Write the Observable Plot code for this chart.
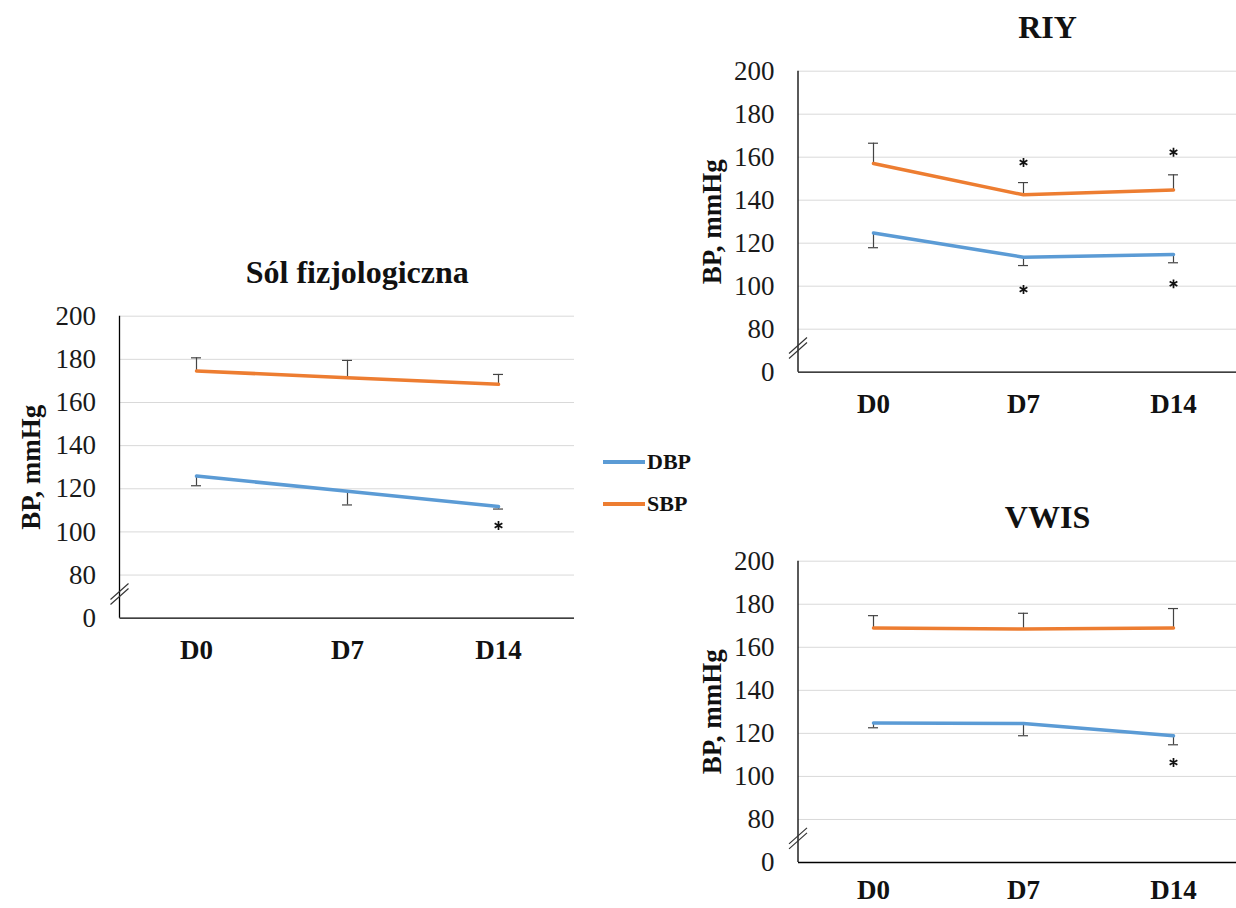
<!DOCTYPE html>
<html>
<head>
<meta charset="utf-8">
<script src="https://cdn.jsdelivr.net/npm/d3@7"></script>
<script src="https://cdn.jsdelivr.net/npm/@observablehq/plot@0.6"></script>
<style>
  html, body { margin: 0; padding: 0; background: #fff; }
  #page {
    position: relative; width: 1236px; height: 908px; overflow: hidden; background: #fff;
    font-family: "Liberation Serif", "Times New Roman", serif; color: #111;
  }
  .panel { position: absolute; }
  .panel svg { max-width: none !important; font-family: "Liberation Serif", "Times New Roman", serif !important; }
  .panel svg text { font-family: "Liberation Serif", "Times New Roman", serif; }
  .legend { position: absolute; left: 603px; top: 441px; }
  .legend .row { display: flex; align-items: center; height: 42px; }
  .legend .swatch { width: 42px; height: 3.5px; margin-right: 2px; }
  .legend .name { font-size: 22px; font-weight: bold; line-height: 1; }
</style>
</head>
<body>
<div id="page">
  <div class="legend" id="legend"></div>
</div>
<script>
// Measurement days (x categories)
const days = ["D0", "D7", "D14"];

// Series names and colours
const seriesNames = ["DBP", "SBP"];
const seriesColors = ["#5b9bd5", "#ed7d31"];

// Y axis: broken axis. The bottom tick (labelled 0) sits one gridline step below 80.
const axisFloor = 60;
const yTickValues = [60, 80, 100, 120, 140, 160, 180, 200];
const yTickLabels = ["0", "80", "100", "120", "140", "160", "180", "200"];
const gridTicks = [80, 100, 120, 140, 160, 180, 200];
const breakValue = 71;
const yLabel = "BP, mmHg";

// Panel titles
const titleSaline = "Sól fizjologiczna";
const titleRIY = "RIY";
const titleVWIS = "VWIS";

// Sól fizjologiczna: means and SD (SBP bars up, DBP bars down)
const salineSBP = [174.6, 171.5, 168.4];
const salineSBPErr = [6.1, 8.0, 4.6];
const salineDBP = [125.9, 118.8, 111.8];
const salineDBPErr = [4.5, 6.3, 1.2];
const salineStars = [{day: "D14", y: 103}];

// RIY
const riySBP = [157.1, 142.5, 144.8];
const riySBPErr = [9.4, 5.7, 7.0];
const riyDBP = [124.7, 113.5, 114.7];
const riyDBPErr = [6.8, 3.9, 3.8];
const riyStars = [
  {day: "D7", y: 157.5}, {day: "D14", y: 162.3},
  {day: "D7", y: 98.5}, {day: "D14", y: 101.1}
];

// VWIS
const vwisSBP = [169.0, 168.5, 169.0];
const vwisSBPErr = [5.7, 7.3, 9.0];
const vwisDBP = [124.8, 124.6, 118.9];
const vwisDBPErr = [2.2, 5.7, 4.2];
const vwisStars = [{day: "D14", y: 106.5}];

const FONT = "Liberation Serif";

function rowsFor(dbp, dbpErr, sbp, sbpErr) {
  const rows = [];
  days.forEach((day, i) => {
    rows.push({day, series: "DBP", value: dbp[i], end: dbp[i] - dbpErr[i]});
    rows.push({day, series: "SBP", value: sbp[i], end: sbp[i] + sbpErr[i]});
  });
  return rows;
}

const tickLabel = d => yTickLabels[yTickValues.indexOf(d)];

// Vertical axis line plus the two slashes marking the break between 0 and 80
function axisWithBreak(index, scales, values, dimensions) {
  const x0 = dimensions.marginLeft;
  const g = d3.create("svg:g");
  g.append("line")
    .attr("x1", x0).attr("x2", x0)
    .attr("y1", scales.y(axisFloor)).attr("y2", scales.y(200))
    .attr("stroke", "#000").attr("stroke-width", 1.3);
  const yb = scales.y(breakValue);
  for (const off of [-2.5, 2.5]) {
    g.append("line")
      .attr("x1", x0 - 9).attr("y1", yb + off + 8)
      .attr("x2", x0 + 9).attr("y2", yb + off - 8)
      .attr("stroke", "#333").attr("stroke-width", 1.2);
  }
  return g.node();
}

function panel(cfg) {
  const {title, rows, stars, width, height, marginLeft, marginRight, marginTop, marginBottom, titleDx, xPad} = cfg;
  return Plot.plot({
    width, height, marginLeft, marginRight, marginTop, marginBottom,
    style: {fontFamily: FONT, background: "transparent", overflow: "visible", color: "#111", maxWidth: "none"},
    x: {type: "point", domain: days, padding: 0.5, axis: null},
    y: {domain: [axisFloor, 200], axis: null},
    color: {domain: seriesNames, range: seriesColors},
    marks: [
      Plot.gridY(gridTicks, {stroke: "#d9d9d9", strokeOpacity: 1, strokeWidth: 1}),
      Plot.ruleY([axisFloor], {stroke: "#000", strokeWidth: 1.3}),
      axisWithBreak,
      Plot.axisY({ticks: yTickValues, tickFormat: tickLabel, tickSize: 0, tickPadding: 24, fontSize: 27, fontFamily: FONT, label: null, fill: "#1a1a1a"}),
      Plot.axisX({tickSize: 0, tickPadding: xPad, fontSize: 27, fontFamily: FONT, fontWeight: "bold", label: null, fill: "#111"}),
      Plot.ruleX(rows, {x: "day", y1: "value", y2: "end", stroke: "#444", strokeWidth: 1.2}),
      Plot.ruleY(rows, {x1: "day", x2: "day", y: "end", insetLeft: -5, insetRight: -5, stroke: "#444", strokeWidth: 1.2}),
      Plot.line(rows, {x: "day", y: "value", z: "series", stroke: "series", strokeWidth: 3.5}),
      Plot.dot(stars, {x: "day", y: "y", symbol: "asterisk", r: 4.2, stroke: "#111", strokeWidth: 1.7}),
      Plot.text([title], {text: d => d, frameAnchor: "top", dy: -43, dx: titleDx, lineAnchor: "middle", textAnchor: "middle", fontSize: 32, fontFamily: FONT, fontWeight: "bold", fill: "#111"}),
      Plot.text([yLabel], {text: d => d, frameAnchor: "left", rotate: -90, dx: cfg.labelDx, textAnchor: "middle", lineAnchor: "middle", fontSize: 27, fontFamily: FONT, fontWeight: "bold", fill: "#111"})
    ]
  });
}

const page = document.getElementById("page");

const panels = [
  {left: 0, top: 230, title: titleSaline, rows: rowsFor(salineDBP, salineDBPErr, salineSBP, salineSBPErr), stars: salineStars,
   width: 580, height: 460, marginLeft: 119.5, marginRight: 6, marginTop: 85.7, marginBottom: 72.3, titleDx: 10, labelDx: -89, xPad: 22},
  {left: 680, top: 0, title: titleRIY, rows: rowsFor(riyDBP, riyDBPErr, riySBP, riySBPErr), stars: riyStars,
   width: 570, height: 430, marginLeft: 118, marginRight: 2, marginTop: 70.7, marginBottom: 58.3, titleDx: 24, labelDx: -86, xPad: 22},
  {left: 680, top: 490, title: titleVWIS, rows: rowsFor(vwisDBP, vwisDBPErr, vwisSBP, vwisSBPErr), stars: vwisStars,
   width: 570, height: 418, marginLeft: 118, marginRight: 2, marginTop: 70.7, marginBottom: 46, titleDx: 24, labelDx: -86, xPad: 17}
];

for (const cfg of panels) {
  const wrap = document.createElement("div");
  wrap.className = "panel";
  wrap.style.left = cfg.left + "px";
  wrap.style.top = cfg.top + "px";
  wrap.style.width = cfg.width + "px";
  wrap.style.height = cfg.height + "px";
  wrap.appendChild(panel(cfg));
  page.appendChild(wrap);
}

// Shared legend
const legend = document.getElementById("legend");
seriesNames.forEach((name, i) => {
  const row = document.createElement("div");
  row.className = "row";
  const sw = document.createElement("div");
  sw.className = "swatch";
  sw.style.background = seriesColors[i];
  const label = document.createElement("span");
  label.className = "name";
  label.textContent = name;
  row.appendChild(sw);
  row.appendChild(label);
  legend.appendChild(row);
});
</script>
</body>
</html>
